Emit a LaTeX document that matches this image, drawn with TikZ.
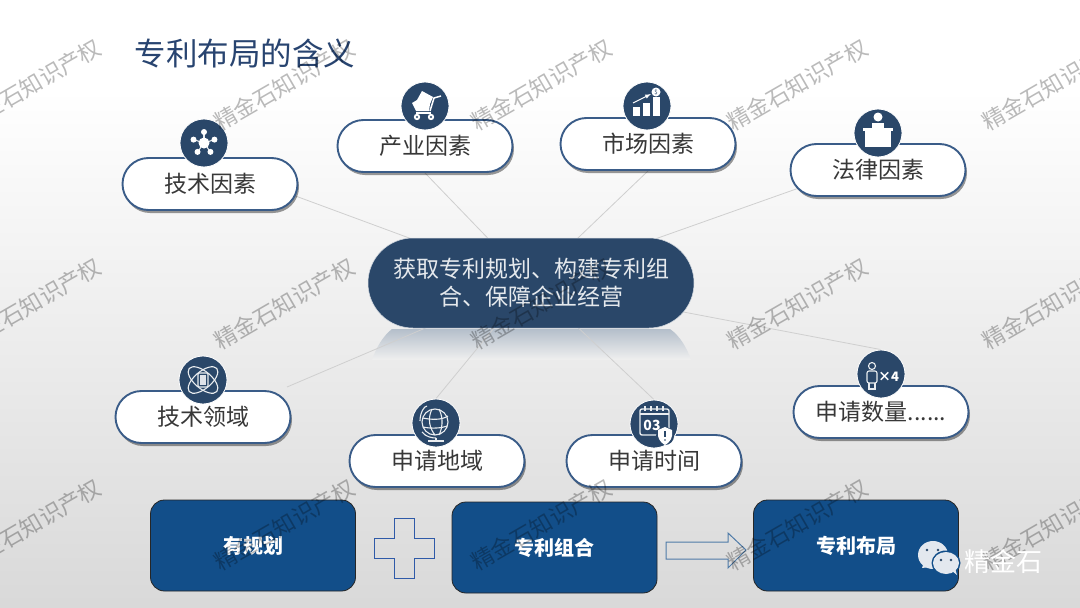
\documentclass[tikz,border=0pt]{standalone}
\usepackage{fontspec}
\setmainfont{Noto Sans CJK SC}
\usetikzlibrary{shapes.misc,shadows,backgrounds}
\definecolor{navy}{HTML}{2A4769}
\definecolor{boxblue}{HTML}{124E89}
\definecolor{rimblue}{HTML}{3A5C88}
\definecolor{inktext}{HTML}{383838}
\definecolor{linkgrey}{HTML}{CFCFCF}
\definecolor{plusblue}{HTML}{2F5AA8}
\definecolor{arrowblue}{HTML}{4F7BA8}
\definecolor{wechat}{HTML}{E3E8EF}
\newcommand{\cjksize}[1]{\fontsize{#1}{#1}\selectfont}
\begin{document}
\begin{tikzpicture}[x=1pt,y=-1pt,
    pill/.style={rounded rectangle,draw=rimblue,line width=1.9pt,fill=white,minimum width=175pt,minimum height=52pt,inner sep=0pt,text=inktext,font=\cjksize{23},
        drop shadow={shadow xshift=1.5pt,shadow yshift=-3pt,opacity=.4,fill=black}},
    disc/.style={circle,draw=white,line width=.8pt,fill=navy,minimum size=48pt,inner sep=0pt},
    hubnode/.style={rounded rectangle,draw=white!80!navy,line width=.5pt,fill=navy,minimum width=326pt,minimum height=90pt,inner sep=0pt,align=center,text=white!88!navy,font=\cjksize{23}},
    bluebox/.style={rectangle,rounded corners=14pt,draw=black!85,line width=.8pt,fill=boxblue,minimum width=205pt,minimum height=91pt,inner sep=0pt,text=white,font=\cjksize{20}\bfseries},
    link/.style={draw=linkgrey,line width=.8pt},
    inkw/.style={fill=white,draw=none},
    linew/.style={draw=white!90!navy,line width=1.1pt},
    markstyle/.style={text=black,opacity=.27,rotate=30,font=\cjksize{22.5}}]
    \useasboundingbox(0,0)rectangle(1080,608);

    \node[hubnode](hub)at(531,283){获取专利规划、构建专利组\\[5pt]合、保障企业经营};

    \node[pill](pillTech)at(210,184){技术因素};
    \node[pill](pillIndustry)at(425,146){\raisebox{2pt}{产业因素}};
    \node[pill](pillMarket)at(648,144){市场因素};
    \node[pill](pillLaw)at(878,170){法律因素};
    \node[pill](pillField)at(203,417){技术领域};
    \node[pill](pillRegion)at(437,461){\raisebox{2pt}{申请地域}};
    \node[pill](pillTime)at(654,461){申请时间};
    \node[pill](pillCount)at(881,412){申请数量......};

    \node[disc](iconTech)at(204,143){};
    \node[disc](iconIndustry)at(425,106){};
    \node[disc](iconMarket)at(647,106){};
    \node[disc](iconLaw)at(878,133){};
    \node[disc](iconField)at(203,380){};
    \node[disc](iconRegion)at(436,423){};
    \node[disc](iconTime)at(654,424){};
    \node[disc](iconCount)at(881,374){};
    \coordinate(fieldEnd)at(287,387);

    \begin{scope}[on background layer]
        \fill[white](0,0)rectangle(1080,90);
        \shade[top color=white,bottom color=white!85!black](0,90)rectangle(1080,608);
        \shade[top color=navy!35!white,bottom color=white!94!black]
            (392,329)--(670,329)..controls(680,336)and(687,348)..(691,360)--(372,360)..controls(376,348)and(383,336)..(392,329)--cycle;
        \draw[link](hub.center)--(pillTech.-8);
        \draw[link](hub.center)--(pillIndustry.south);
        \draw[link](hub.center)--(pillMarket.south);
        \draw[link](hub.center)--(pillLaw.193);
        \draw[link](hub.center)--(fieldEnd);
        \draw[link](hub.center)--(iconRegion.north);
        \draw[link](hub.center)--(iconTime.north);
        \draw[link](hub.center)--(iconCount.north);
    \end{scope}

    \node[anchor=west,text=navy!95!blue,font=\cjksize{31.5}](title)at(131,53){专利布局的含义};

    \begin{scope}[shift={(iconTech.center)}]
        \foreach \a in {270,342,54,126,198}{
            \draw[linew](0,0)--(\a:11);
            \fill[inkw](\a:11)circle(3);
        }
        \fill[inkw](0,0)circle(5.5);
    \end{scope}

    \begin{scope}[shift={(iconIndustry.center)}]
        \fill[inkw](-8,-6)--(-3,-15)--(8,-9)--(5,-2)--(4,5)--(-9,5)--(-13,-3)--cycle;
        \draw[white,line width=1.5pt](5,5)--(9,-8)--(16,-10);
        \draw[white,line width=1.5pt](-9,7)--(6,7);
        \fill[inkw](-8,11)circle(3.2);
        \fill[inkw](6,11)circle(3.2);
        \fill[navy](-8,11)circle(1.2);
        \fill[navy](6,11)circle(1.2);
    \end{scope}

    \begin{scope}[shift={(iconMarket.center)}]
        \fill[inkw](-14,1)rectangle(-7,10);
        \fill[inkw](-4,-3)rectangle(3,10);
        \fill[inkw](6,-9)rectangle(13,10);
        \draw[white,line width=1pt,-latex](-14,-3)--(4,-12);
        \fill[inkw](9,-14)circle(4.5);
        \node[text=navy,font=\cjksize{6},inner sep=0pt](coinSign)at(9,-14){\$};
    \end{scope}

    \begin{scope}[shift={(iconLaw.center)}]
        \fill[inkw](0,-16)circle(4.5);
        \fill[inkw](-6,-10)rectangle(6,-4);
        \fill[inkw](-15,-5)rectangle(15,-2);
        \fill[inkw](-13,-2)rectangle(13,14);
    \end{scope}

    \begin{scope}[shift={(iconField.center)}]
        \draw[linew,rotate=40](0,0)ellipse[x radius=18,y radius=8.5];
        \draw[linew,rotate=-40](0,0)ellipse[x radius=18,y radius=8.5];
        \draw[linew,rounded corners=1pt,fill=navy](-5,-7)rectangle(5,7);
        \fill[white!85!navy](-3,-5)rectangle(3,5);
    \end{scope}

    \begin{scope}[shift={(iconRegion.center)}]
        \draw[linew](-1,-1)circle(13);
        \draw[linew](-13,-5)..controls(-4,-3)and(6,-3)..(12,-7);
        \draw[linew](-13,4)..controls(-4,6)and(6,5)..(11,3);
        \draw[linew](-4,-14)..controls(-9,-4)and(-6,6)..(-1,12);
        \draw[linew](3,-14)..controls(8,-4)and(6,6)..(3,12);
        \draw[linew](-9,-17)..controls(-12,-17)and(-16,-10)..(-16,-2);
        \draw[linew](-14,9)..controls(-10,14)and(-4,15)..(0,15);
        \draw[linew](0,15)--(0,18);
        \draw[linew,line width=1.5pt](-8,18)--(8,18);
    \end{scope}

    \begin{scope}[shift={(iconTime.center)}]
        \draw[linew,line width=1.4pt,rounded corners=2pt](-14,-15)rectangle(15,11);
        \draw[linew](-14,-10)--(15,-10);
        \foreach \t in {-9,-3,3,9}{\draw[linew](\t,-18)--(\t,-13);}
        \node[text=white,inner sep=0pt,font=\cjksize{14}\bfseries](dateDay)at(-2,1){03};
        \fill[navy](11,12)circle(9);
        \fill[inkw](4,6)--(11,3)--(18,6)--(18,12)..controls(17,17)and(13,20)..(11,21)..controls(9,20)and(5,17)..(4,12)--cycle;
        \draw[navy,line width=1.3pt](11,7)--(11,13);
        \fill[navy](11,16)circle(.9);
    \end{scope}

    \begin{scope}[shift={(iconCount.center)}]
        \draw[linew](-9,-8)circle(3.5);
        \draw[linew,rounded corners=2pt](-14,-3)rectangle(-4,9);
        \draw[linew](-12,9)--(-12,15)--(-6,15)--(-6,9);
        \node[text=white,inner sep=0pt,font=\cjksize{13}\bfseries](countTimes)at(7.5,3){×4};
    \end{scope}

    \node[bluebox](boxPlan)at(253,545.5){有规划};
    \node[bluebox](boxGroup)at(554.5,547.5){专利组合};
    \node[bluebox](boxLayout)at(856,545.5){专利布局};

    \draw[plusblue,line width=.9pt](394,518)--(414,518)--(414,538)--(434,538)--(434,558)--(414,558)--(414,578)--(394,578)--(394,558)--(374,558)--(374,538)--(394,538)--cycle;
    \draw[arrowblue,line width=1pt](666,542)--(728,542)--(728,533)--(746,550)--(728,568)--(728,559)--(666,559)--cycle;

    \foreach \cx [count=\i] in {31,284,541,797,1052}{
        \foreach \cy [count=\j] in {85,304,525}{
            \node[markstyle](wm\i\j)at(\cx,\cy){精金石知识产权};
        }
    }

    \fill[wechat](933,555)ellipse[x radius=15,y radius=14];
    \fill[wechat](923,565)--(922,568)--(930,567)--cycle;
    \fill[navy](927,550)circle(1.4);
    \fill[navy](938,550)circle(1.4);
    \fill[boxblue](946,563)ellipse[x radius=14.5,y radius=12.5];
    \fill[wechat](946,563)ellipse[x radius=13,y radius=11];
    \fill[wechat](952,571)--(957,575)--(955,568)--cycle;
    \fill[navy](941,560)circle(1.3);
    \fill[navy](951,560)circle(1.3);
    \node[text=white,anchor=west,inner sep=0pt,font=\cjksize{26}](brand)at(964,561){精金石};
\end{tikzpicture}
\end{document}
